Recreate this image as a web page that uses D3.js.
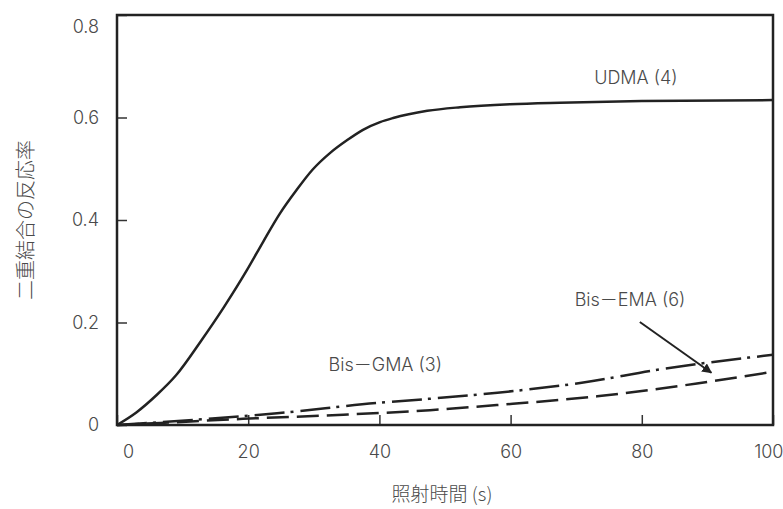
<!DOCTYPE html>
<html>
<head>
<meta charset="utf-8">
<script src="https://cdn.jsdelivr.net/npm/d3@7"></script>
<style>
  body { margin: 0; background: #fff; }
  svg { display: block; }
  text { font-family: Inter, "Noto Sans CJK JP", sans-serif; font-weight: 300; fill: #4a4a4a; }
  .jp { font-family: "Noto Sans CJK JP", sans-serif; }
</style>
</head>
<body>
<div id="chart"></div>
<script>
'use strict';

// series: [time (s), conversion]
const udma = [[0, 0], [3, 0.025], [6, 0.058], [9, 0.097], [12.7, 0.162], [16.2, 0.228],
  [19.8, 0.302], [22.3, 0.358], [24.8, 0.412], [27.4, 0.459], [29.8, 0.498], [32.5, 0.531],
  [35.1, 0.556], [37.5, 0.576], [40.1, 0.591], [42.1, 0.599], [47.3, 0.613], [52.3, 0.620],
  [59.9, 0.626], [67.5, 0.629], [80, 0.632], [100, 0.634]];
const bisGMA = [[0, 0], [11.6, 0.010], [24.4, 0.023], [39.6, 0.043], [47.5, 0.051], [58, 0.063],
  [70.6, 0.082], [83, 0.109], [100, 0.137]];
const bisEMA = [[0, 0], [6.6, 0.004], [19.2, 0.012], [34.5, 0.020], [47.7, 0.029], [58, 0.039],
  [73.2, 0.056], [88.4, 0.081], [100, 0.104]];

const xTicks = [0, 20, 40, 60, 80, 100];
const yTicks = [0, 0.2, 0.4, 0.6, 0.8];
const yTickLabels = ['0', '0.2', '0.4', '0.6', '0.8'];

// labels and arrow in data units
const labels = [
  { text: 'UDMA (4)', x: 79.1, y: 0.677 },
  { text: 'Bis－EMA (6)', x: 78.2, y: 0.244 },
  { text: 'Bis－GMA (3)', x: 40.9, y: 0.117 }
];
const arrow = { from: [79.7, 0.201], to: [90.6, 0.102] };

const svgWidth = 783, svgHeight = 509;
const margin = { top: 15, right: 10, bottom: 84, left: 117 };
const width = svgWidth - margin.left - margin.right;
const height = svgHeight - margin.top - margin.bottom;

const svg = d3.select('#chart').append('svg')
  .attr('width', svgWidth)
  .attr('height', svgHeight);

svg.append('defs').append('marker')
  .attr('id', 'head')
  .attr('viewBox', '0 0 10 10')
  .attr('refX', 9).attr('refY', 5)
  .attr('markerWidth', 5).attr('markerHeight', 5)
  .attr('markerUnits', 'strokeWidth')
  .attr('orient', 'auto')
  .append('path').attr('d', 'M0,0L10,5L0,10Z').attr('fill', '#222');

const chart = svg.append('g').attr('transform', `translate(${margin.left},${margin.top})`);

const scaleX = d3.scaleLinear([0, 100], [0, width]);
const scaleY = d3.scaleLinear([0, 0.8], [height, 0]);

// axes with inward ticks
const axisX = chart.append('g')
  .attr('transform', `translate(0,${height})`)
  .call(d3.axisBottom(scaleX).tickValues(xTicks).tickSize(-10).tickPadding(20));
const axisY = chart.append('g')
  .call(d3.axisLeft(scaleY).tickValues(yTicks).tickFormat((d, i) => yTickLabels[i]).tickSize(-10).tickPadding(18));

[axisX, axisY].forEach(a => {
  a.select('.domain').remove();
  a.selectAll('line').attr('stroke', '#333').attr('stroke-width', 1.5);
  a.selectAll('text')
    .attr('fill', '#4a4a4a')
    .style('font-family', 'Inter, sans-serif')
    .style('font-weight', 300)
    .style('font-size', '18px');
});
axisX.selectAll('.tick').filter(d => d === 0).select('text').attr('x', 11);
axisX.selectAll('.tick').filter(d => d === 100).select('text').attr('text-anchor', 'end').attr('x', 10);
axisY.selectAll('.tick').filter(d => d === 0.8).select('text').attr('dy', '0.95em');

// frame
chart.append('rect')
  .attr('width', width).attr('height', height)
  .attr('fill', 'none').attr('stroke', '#222').attr('stroke-width', 2.5);

const line = d3.line()
  .x(d => scaleX(d[0]))
  .y(d => scaleY(d[1]))
  .curve(d3.curveMonotoneX);

const series = [
  { data: udma, dash: null },
  { data: bisGMA, dash: '30,6,3,7' },
  { data: bisEMA, dash: '22,8' }
];

chart.selectAll('.series').data(series).join('path')
  .attr('class', 'series')
  .attr('d', d => line(d.data))
  .attr('fill', 'none')
  .attr('stroke', '#222')
  .attr('stroke-width', 2.5)
  .attr('stroke-dasharray', d => d.dash);

chart.append('line')
  .attr('x1', scaleX(arrow.from[0])).attr('y1', scaleY(arrow.from[1]))
  .attr('x2', scaleX(arrow.to[0])).attr('y2', scaleY(arrow.to[1]))
  .attr('stroke', '#222').attr('stroke-width', 2)
  .attr('marker-end', 'url(#head)');

chart.selectAll('.label').data(labels).join('text')
  .attr('class', 'label')
  .attr('x', d => scaleX(d.x))
  .attr('y', d => scaleY(d.y))
  .attr('dy', '0.35em')
  .attr('text-anchor', 'middle')
  .style('font-size', '18px')
  .text(d => d.text);

// axis titles
svg.append('text')
  .attr('class', 'jp')
  .attr('text-anchor', 'middle')
  .attr('x', 442)
  .attr('y', 494)
  .attr('dy', '0.35em')
  .style('font-size', '19px')
  .text('照射時間 (s)');

svg.append('text')
  .attr('class', 'jp')
  .attr('text-anchor', 'middle')
  .attr('dy', '0.35em')
  .attr('transform', 'translate(26,220) rotate(-90)')
  .style('font-size', '20px')
  .text('二重結合の反応率');
</script>
</body>
</html>
